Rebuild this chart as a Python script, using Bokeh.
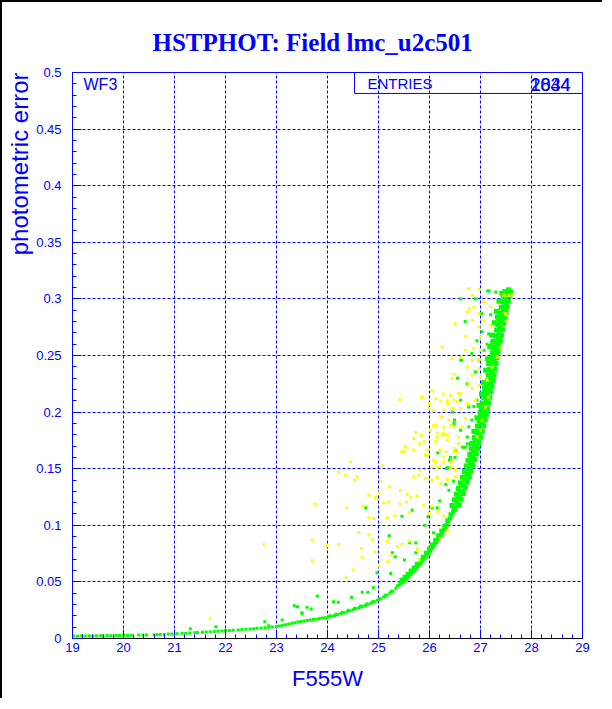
from bokeh.plotting import figure
from bokeh.models import Range1d, FixedTicker, Label, Title
from bokeh.embed import file_html
from bokeh.resources import INLINE

# ---------------- data: (F555W, photometric error) ----------------
band_bright = [(19.02,.0022),(19.1,.0020),(19.18,.0024),(19.25,.0022),(19.33,.0023),(19.4,.0021),(19.47,.0025),
    (19.55,.0024),(19.6,.0022),(19.68,.0026),(19.75,.0025),(19.85,.0026),(19.92,.0027),(20.0,.0028),(20.08,.0026),
    (20.15,.0029),(20.3,.0030),(20.38,.0032),(20.45,.0031),(20.6,.0034),(20.66,.0033),(20.72,.0036),(20.8,.0036),
    (20.88,.0039),(20.95,.0040),(21.05,.0043),(21.15,.0046),(21.22,.0046),(21.3,.0049),(21.4,.0051),(21.45,.0053),
    (21.55,.0055),(21.62,.0057),(21.7,.0059),(21.78,.0061),(21.85,.0063),(21.93,.0066),(22.0,.0068),(22.08,.0071),
    (22.15,.0073),(22.25,.0076),(22.32,.0079),(22.4,.0082),(22.48,.0085),(22.55,.0087),(22.62,.0090),(22.7,.0093),
    (22.78,.0096),(22.85,.0099),(22.92,.0102)]

band_mid = [(23.0,.0105),(23.06,.0110),(23.12,.0116),(23.18,.0122),(23.24,.0128),(23.3,.0134),(23.36,.0140),
    (23.42,.0146),(23.48,.0151),(23.54,.0155),(23.6,.0159),(23.66,.0163),(23.72,.0167),(23.78,.0171),(23.84,.0176),
    (23.9,.0180),(23.96,.0184),(24.02,.0189),(24.08,.0196),(24.14,.0204),(24.2,.0212),(24.26,.0220),(24.32,.0228),
    (24.38,.0237),(24.44,.0246),(24.5,.0255),(24.56,.0264),(24.62,.0273),(24.68,.0283),(24.74,.0292),(24.8,.0302),
    (24.86,.0313),(24.92,.0325),(24.98,.0337),(25.04,.0350),(25.1,.0366),(25.16,.0383),(25.22,.0400),(25.28,.0418),
    (25.34,.0443),(25.4,.0470),
    (24.05,.0200),(24.17,.0215),(24.29,.0232),(24.41,.0250),(24.53,.0268),(24.65,.0286),(24.77,.0305),(24.89,.0327),
    (25.01,.0352),(25.13,.0381),(25.25,.0418),(25.37,.0465)]

band_faint = [(25.43,.0485),(25.47,.0500),(25.5,.0513),(25.53,.0526),(25.56,.0540),(25.59,.0554),(25.62,.0568),
    (25.65,.0582),(25.68,.0596),(25.71,.0610),(25.74,.0625),(25.77,.0640),(25.8,.0655),(25.83,.0671),(25.86,.0688),
    (25.89,.0705),(25.92,.0722),(25.95,.0740),(25.98,.0758),(26.01,.0776),(26.04,.0795),(26.07,.0814),(26.1,.0833),
    (26.13,.0853),(26.16,.0873),(26.19,.0893),(26.22,.0914),(26.25,.0935),(26.28,.0958),(26.31,.0982),(26.34,.1007),
    (26.37,.1033),(26.4,.1060),(26.43,.1087),(26.46,.1115),(26.49,.1143),
    (25.45,.0520),(25.51,.0545),(25.57,.0572),(25.63,.0600),(25.69,.0628),(25.75,.0658),(25.81,.0690),(25.87,.0722),
    (25.93,.0757),(25.99,.0793),(26.05,.0830),(26.11,.0870),(26.17,.0910),(26.23,.0952),(26.29,.0997),(26.35,.1045),
    (26.41,.1097),(26.47,.1150)]

band_steep = [(26.49,.115),(26.54,.120),(26.575,.125),(26.615,.130),(26.655,.135),(26.695,.140),(26.735,.145),
    (26.77,.150),(26.805,.155),(26.84,.160),(26.87,.165),(26.90,.170),(26.93,.175),(26.96,.180),(26.99,.185),
    (27.02,.190),(27.045,.195),(27.07,.200),(27.09,.205),(27.115,.210),(27.135,.215),(27.16,.220),(27.18,.225),
    (27.20,.230),(27.22,.235),(27.24,.240),(27.26,.245),(27.28,.250),(27.30,.255),(27.32,.260),(27.345,.265),
    (27.365,.270),(27.385,.275),(27.41,.280),(27.43,.285),(27.455,.290),(27.48,.295),(27.50,.300),(27.53,.305),
    (27.55,.308),
    (26.44,.1175),(26.49,.1225),(26.525,.1275),(26.565,.1325),(26.605,.1375),(26.645,.1425),(26.685,.1475),
    (26.72,.1525),(26.755,.1575),(26.79,.1625),(26.82,.1675),(26.85,.1725),(26.88,.1775),(26.91,.1825),(26.94,.1875),
    (26.97,.1925),(26.995,.1975),(27.02,.2025),(27.04,.2075),(27.065,.2125),(27.085,.2175),(27.11,.2225),(27.13,.2275),
    (27.15,.2325),(27.17,.2375),(27.19,.2425),(27.21,.2475),(27.23,.2525),(27.25,.2575),(27.27,.2625),(27.295,.2675),
    (27.315,.2725),(27.335,.2775),(27.36,.2825),(27.38,.2875),(27.405,.2925),(27.43,.2975),(27.45,.3025),(27.48,.3065),
    (26.585,.118),(26.62,.123),(26.66,.128),(26.70,.133),(26.74,.138),(26.78,.143),(26.815,.148),(26.85,.153),
    (26.885,.158),(26.915,.163),(26.945,.168),(26.975,.173),(27.005,.178),(27.035,.183),(27.065,.188),(27.09,.193),
    (27.115,.198),(27.135,.203),(27.16,.208),(27.18,.213),(27.205,.218),(27.225,.223),(27.245,.228),(27.265,.233),
    (27.285,.238),(27.305,.243),(27.325,.248),(27.345,.253),(27.365,.258),(27.39,.263),(27.41,.268),(27.43,.273),
    (27.455,.278),(27.475,.283),(27.50,.288),(27.525,.293),(27.545,.298),(27.575,.303),(27.59,.306),
    (26.82,.172),(26.87,.183),(26.93,.195),(26.97,.206),(27.02,.216),(27.06,.226),(27.1,.237),(27.14,.247),
    (27.18,.258),(27.22,.268),(27.27,.279),(27.31,.289),(27.36,.298),(27.42,.305),(26.9,.176),(27.0,.2),
    (27.08,.221),(27.16,.243),(27.24,.262),(27.33,.284)]

green_field = [(27.14,.307),(27.17,.307),(27.3,.306),(27.02,.287),(27.2,.286),(27.16,.269),(27.13,.26),(27.07,.2546),
    (26.97,.246),(26.9,.2355),(26.93,.2105),(26.87,.205),(26.83,.193),(26.77,.187),(26.74,.172),(26.65,.169),
    (26.61,.246),(27.03,.271),(26.93,.263),(26.83,.2517),(26.63,.246),(26.74,.225),(26.61,.2105),(26.77,.2045),
    (26.48,.19),(26.61,.184),(26.74,.178),(26.51,.166),(26.41,.16),(26.7,.169),(26.35,.151),(26.49,.193),
    (26.16,.164),(26.39,.1576),(26.5,.16),(26.33,.15),(26.32,.136),(26.47,.139),(26.38,.131),(26.2,.1216),
    (26.05,.1155),(26.15,.1155),(25.66,.1134),(25.46,.108),(24.75,.1155),(25.97,.1075),(25.91,.1),(26.08,.0934),
    (25.21,.0908),(25.61,.0846),(25.73,.0846),(25.27,.0757),(25.73,.0757),(25.33,.0722),(25.51,.0693),(25.24,.0575),
    (24.97,.058),(24.9,.045),(24.79,.0408),(24.68,.0408),(24.47,.0364),(23.8,.0375),(24.12,.0325),(23.6,.0275),
    (23.5,.0228),(23.41,.028),(23.68,.026),(24.21,.032),(22.85,.0113),(21.31,.0087),(21.81,.0104),(22.77,.0148),
    (23.11,.0163),(23.35,.029),(23.5,.022),(26.61,.300),(26.7,.28),(26.55,.23),(26.45,.2),(26.9,.3)]

yellow_field = [(26.05,.2187),(26.27,.2158),(26.41,.2149),(26.57,.2164),(26.12,.212),(26.22,.2099),(26.35,.2099),
    (26.48,.2105),(25.42,.2111),(25.84,.2129),(25.99,.2032),(26.07,.2011),(26.28,.2017),(26.48,.2032),(26.25,.1958),
    (26.38,.1929),(26.12,.1884),(26.28,.1869),(26.41,.1884),(26.15,.1817),(26.27,.1811),(26.35,.1796),(25.73,.182),
    (25.84,.1796),(25.69,.1767),(25.9,.1737),(26.12,.1743),(25.81,.1723),(25.46,.1649),(25.53,.1693),(26.2,.1664),
    (26.33,.1649),(26.49,.1678),(26.54,.1649),(25.95,.162),(26.08,.1575),(26.28,.156),(26.44,.156),(26.41,.1511),
    (26.15,.1511),(25.82,.1487),(25.69,.1428),(25.79,.1443),(25.92,.1414),(26.05,.1399),(26.15,.1423),(26.35,.1405),
    (26.22,.137),(26.51,.1428),(24.45,.1558),(25.08,.1526),(24.22,.1467),(24.35,.1443),(24.58,.1428),(24.53,.1399),
    (25.04,.1393),(25.22,.134),(25.43,.1305),(25.01,.1287),(24.81,.1267),(24.94,.1246),(25.56,.1275),(25.63,.1246),
    (25.76,.1258),(25.1,.1199),(25.2,.1207),(25.43,.1187),(25.55,.1205),(25.89,.1178),(26.05,.1169),(24.7,.1169),
    (23.76,.1187),(24.37,.1154),(24.81,.107),(24.91,.1061),(25.17,.1066),(25.32,.1085),(25.6,.111),(26.15,.1119),
    (26.28,.1081),(24.61,.0937),(24.81,.0922),(24.88,.0875),(24.22,.0831),(23.7,.0867),(23.99,.0819),(25.17,.0857),
    (25.37,.0813),(25.46,.0831),(25.76,.0796),(24.67,.0796),(24.93,.0766),(25.24,.0737),(24.68,.0717),(23.7,.0687),
    (25.18,.0678),(25.79,.0693),(25.01,.064),(24.5,.0605),(24.37,.0537),(25.76,.0781),(25.6,.0861),(26.35,.0949),
    (26.22,.0882),(26.51,.1493),(25.99,.1105),
    (26.77,.309),(26.97,.3085),(26.84,.3032),(27.06,.2973),(26.87,.2929),(27.2,.2929),(26.74,.2885),(26.97,.287),
    (26.84,.2811),(27.06,.2811),(26.5,.2782),(26.97,.2752),(27.2,.2767),(26.71,.267),(27.0,.2664),(26.25,.2576),
    (26.71,.2546),(26.87,.2561),(27.0,.2546),(26.44,.2473),(26.61,.2482),(26.84,.2458),(26.97,.2464),(26.74,.2399),
    (26.97,.2385),(26.48,.2334),(26.84,.2326),(27.0,.2311),(26.44,.2297),(26.77,.2252),(26.97,.2237),(26.61,.2164),
    (26.84,.2208),(26.54,.209),(26.74,.2076),(26.9,.2105),(25.86,.2134),(25.99,.2076),(26.35,.2076),(26.44,.2032),
    (26.61,.2032),(26.22,.1958),(26.71,.1944),(26.08,.1884),(26.48,.1869),(26.64,.1869),(26.02,.184),(26.25,.1796),
    (26.57,.1781),(25.82,.1723),(26.15,.1781),(26.35,.1752),(26.57,.1723),(25.53,.1693),(25.69,.1664),(25.95,.1664),
    (26.22,.1664),(26.48,.1649),(25.5,.1649),(25.92,.162),(26.28,.1605),(26.12,.1561),(26.41,.1552),(26.22,.1517),
    (26.05,.1517),
    (27.46,.3032),(27.555,.3032),(27.49,.287),(27.52,.2811),(27.39,.2576),(27.33,.2487),(27.23,.2399),(27.13,.2282),
    (27.16,.2134),(27.1,.2046),(27.03,.1928),(27.0,.184),(26.935,.1781),(26.78,.2914),(27.62,.3032),
    (22.76,.083),(21.7,.0175)]

x_ticks = [19, 20, 21, 22, 23, 24, 25, 26, 27, 28, 29]
y_ticks = [0, 0.05, 0.1, 0.15, 0.2, 0.25, 0.3, 0.35, 0.4, 0.45, 0.5]
y_tick_labels = ["0", "0.05", "0.1", "0.15", "0.2", "0.25", "0.3", "0.35", "0.4", "0.45", "0.5"]
title_text = "HSTPHOT: Field lmc_u2c501"
x_title = "F555W"
y_title = "photometric error"
chip_text = "WF3"
stat_name = "ENTRIES"
stat_values = ["2034", "1844"]

BLUE = "#0000ff"
GREEN = "#00ff00"
YELLOW = "#ffff00"
SANS = "Liberation Sans"

p = figure(width=602, height=698, output_backend="svg", toolbar_location=None,
           x_range=Range1d(19, 29), y_range=Range1d(0, 0.5),
           min_border_left=70, min_border_right=22, min_border_top=70, min_border_bottom=62)
p.background_fill_color = "white"
p.border_fill_color = "white"
p.outline_line_color = BLUE
p.outline_line_width = 1

p.title.text = title_text
p.title.align = "left"
p.title.offset = 80
p.title.text_font = "Liberation Serif"
p.title.text_font_style = "bold"
p.title.text_font_size = "25px"
p.title.text_color = BLUE
p.title.standoff = 33

p.xaxis.ticker = FixedTicker(ticks=x_ticks, minor_ticks=[19 + 0.2 * i for i in range(51)])
p.yaxis.ticker = FixedTicker(ticks=y_ticks, minor_ticks=[0.01 * i for i in range(51)])
p.yaxis.major_label_overrides = {t: s for t, s in zip(y_ticks, y_tick_labels)}

for ax in (p.xaxis, p.yaxis):
    ax.major_tick_in = 9
    ax.major_tick_out = 0
    ax.minor_tick_in = 4
    ax.minor_tick_out = 0
    ax.major_tick_line_color = BLUE
    ax.minor_tick_line_color = BLUE
    ax.major_label_text_color = BLUE
    ax.major_label_text_font = SANS
    ax.major_label_text_font_size = "13px"
p.xaxis.axis_line_color = "black"
p.yaxis.axis_line_color = BLUE
p.xaxis.major_label_standoff = 4
p.yaxis.major_label_standoff = 11

p.xaxis.axis_label = x_title
p.xaxis.axis_label_text_font = SANS
p.xaxis.axis_label_text_font_style = "normal"
p.xaxis.axis_label_text_font_size = "22px"
p.xaxis.axis_label_text_color = BLUE
p.xaxis.axis_label_standoff = 11

ytitle = Title(text=y_title, align="right", text_font=SANS, text_font_style="normal",
               text_font_size="24px", text_color=BLUE, standoff=2)
p.add_layout(ytitle, "left")

p.xgrid.grid_line_color = BLUE
p.ygrid.grid_line_color = BLUE
p.xgrid.grid_line_dash = "3 2"
p.ygrid.grid_line_dash = "3 2"

def unzip(pts):
    return [a for a, _ in pts], [b for _, b in pts]

for pts, size in ((band_bright, 3), (band_mid, 3), (band_faint, 4), (band_steep, 5), (green_field, 3)):
    xs, ys = unzip(pts)
    p.scatter(xs, ys, marker="square", size=size, fill_color=GREEN, line_color=None)
xs, ys = unzip(yellow_field)
p.scatter(xs, ys, marker="square", size=3, fill_color=YELLOW, line_color=None)

# statistics box
p.quad(left=[24.53], right=[29.0], top=[0.5], bottom=[0.4815], fill_color=None, line_color=BLUE, line_width=1)
p.add_layout(Label(x=24.784, y=0.4905, text=stat_name, text_font=SANS, text_font_size="15px",
                   text_color=BLUE, text_baseline="alphabetic", text_align="left"))
for s in stat_values:
    p.add_layout(Label(x=28.765, y=0.4895, text=s, text_font=SANS, text_font_size="18px",
                       text_color=BLUE, text_baseline="alphabetic", text_align="right"))

p.add_layout(Label(x=19.216, y=0.4892, text=chip_text, text_font=SANS, text_font_size="16px",
                   text_color=BLUE, text_baseline="alphabetic", text_align="left"))

p.styles = {"border-left": "2px solid black", "border-top": "2px solid black"}

open("out.html", "w").write(file_html(p, INLINE))
